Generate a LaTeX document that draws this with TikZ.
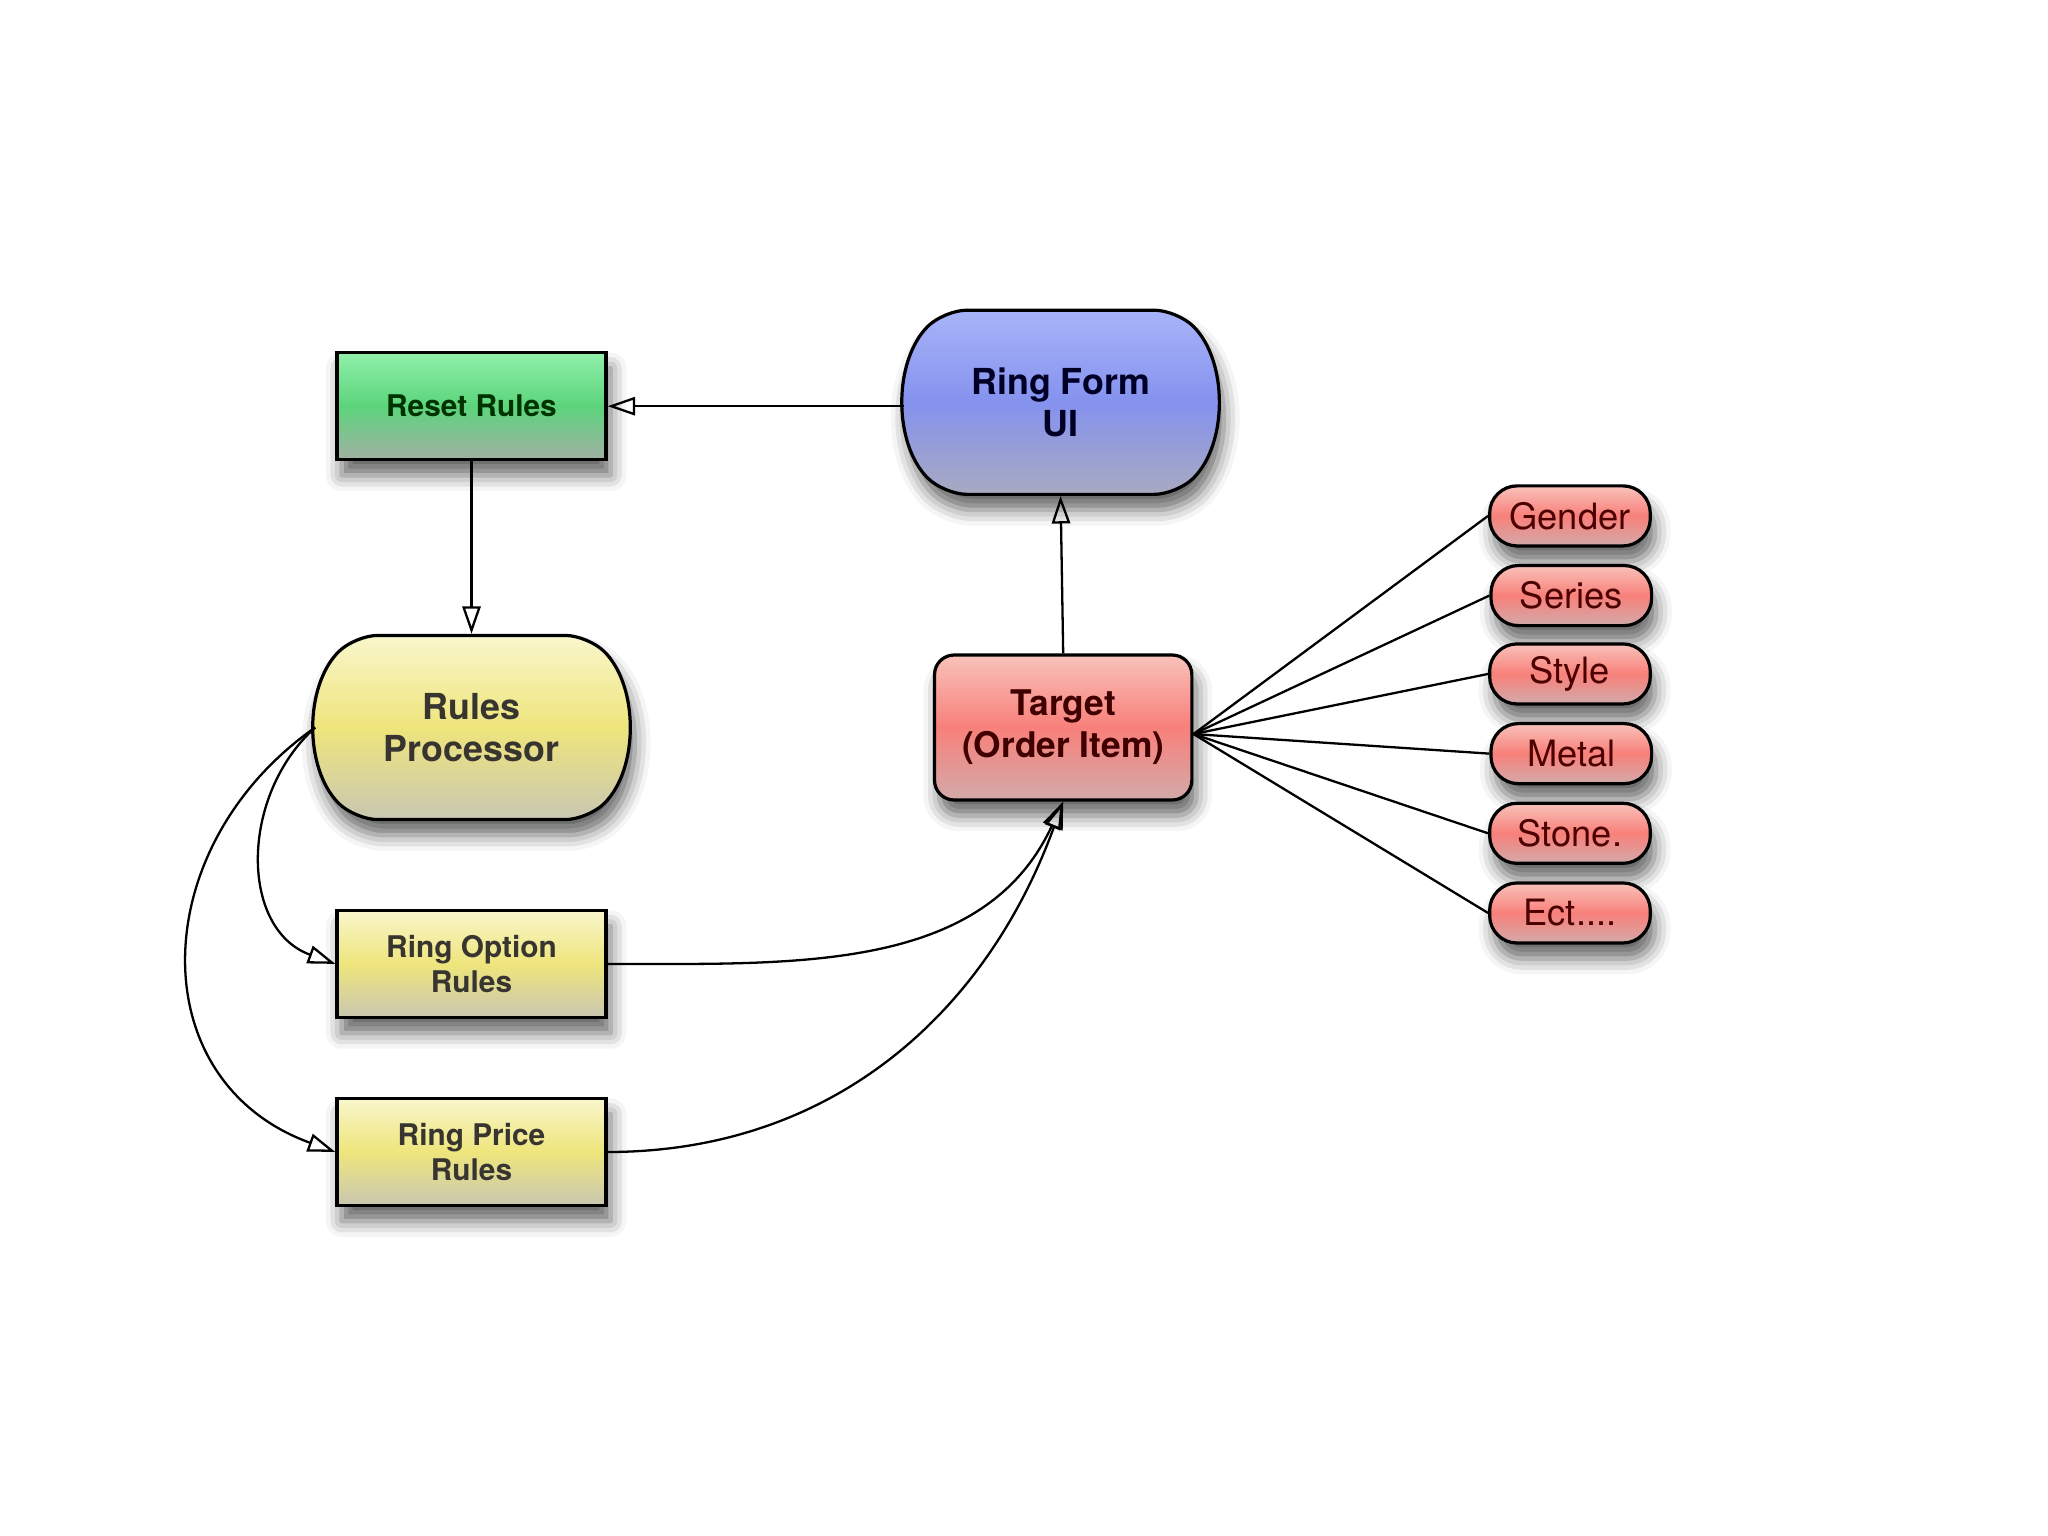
\documentclass[tikz,border=0pt]{standalone}
\usepackage{fontspec}
\setmainfont{TeX Gyre Heros}
\usetikzlibrary{arrows.meta, shapes.misc, shadows.blur}

\definecolor{greentop}{HTML}{90F0AA}
\definecolor{greenmid}{HTML}{5CD47C}
\definecolor{greenbot}{HTML}{A2B0A4}
\definecolor{bluetop}{HTML}{A8B4F8}
\definecolor{bluemid}{HTML}{8592EE}
\definecolor{bluebot}{HTML}{A8AAC0}
\definecolor{yeltop}{HTML}{F9F6CC}
\definecolor{yelmid}{HTML}{EEE57C}
\definecolor{yelbot}{HTML}{C9C7B2}
\definecolor{redtop}{HTML}{F8C2BA}
\definecolor{redmid}{HTML}{F8807A}
\definecolor{redbot}{HTML}{D2AAAA}

\begin{document}
\begin{tikzpicture}

\tikzset{shadowed/.style = {blur shadow={shadow xshift=1pt, shadow yshift=-3.4pt, shadow blur radius=3.4pt, shadow opacity=60}}}
\tikzset{box/.style = {shape=rectangle, draw, line width=0.7pt, minimum width=2.06cm, minimum height=0.82cm, align=center, inner sep=1pt, shadowed, font=\bfseries\fontsize{6.5}{7.7}\selectfont}}
\tikzset{drum/.style = {shape=rounded rectangle, rounded rectangle arc length=90, rounded corners=5pt, draw, line width=0.7pt, minimum width=2.44cm, minimum height=1.41cm, align=center, inner sep=1pt, shadowed, font=\bfseries\fontsize{7.8}{9.1}\selectfont}}
\tikzset{pill/.style = {shape=rectangle, rounded corners=0.21cm, draw, line width=0.7pt, minimum width=1.23cm, minimum height=0.46cm, inner sep=1pt, shadowed, top color=redtop, bottom color=redbot, middle color=redmid, text=red!30!black, font=\fontsize{7.9}{9}\selectfont}}
\tikzset{edge/.style = {-{Triangle[open, length=6pt, width=4pt]}, line width=0.5pt}}

\useasboundingbox (0,0) rectangle (15.68,-11.76);

% vertices
\node[box, top color=greentop, bottom color=greenbot, middle color=greenmid, text=green!20!black] (reset) at (3.61,-3.11) {Reset Rules};
\node[drum, top color=bluetop, bottom color=bluebot, middle color=bluemid, text=blue!15!black] (form) at (8.12,-3.08) {Ring Form\\UI};
\node[drum, top color=yeltop, bottom color=yelbot, middle color=yelmid, text=yellow!10!black] (proc) at (3.61,-5.57) {Rules\\Processor};
\node[shape=rectangle, rounded corners=0.15cm, draw, line width=0.7pt, minimum width=1.97cm, minimum height=1.11cm, align=center, inner sep=1pt, shadowed, top color=redtop, bottom color=redbot, middle color=redmid, text=red!25!black, font=\bfseries\fontsize{7.7}{9.1}\selectfont] (target) at (8.14,-5.57) {Target\\(Order Item)};
\node[box, top color=yeltop, bottom color=yelbot, middle color=yelmid, text=yellow!10!black] (option) at (3.61,-7.38) {Ring Option\\Rules};
\node[box, top color=yeltop, bottom color=yelbot, middle color=yelmid, text=yellow!10!black] (price) at (3.61,-8.82) {Ring Price\\Rules};

\node[pill] (gender) at (12.02,-3.95) {Gender};
\node[pill] (series) at (12.03,-4.56) {Series};
\node[pill] (style) at (12.02,-5.16) {Style};
\node[pill] (metal) at (12.03,-5.77) {Metal};
\node[pill] (stone) at (12.02,-6.38) {Stone.};
\node[pill] (etc) at (12.02,-6.99) {Ect....};

%edges
\draw [edge] (form.west |- reset.east) -- (reset.east);
\draw [edge] (reset.south) -- (proc.north);
\draw [edge] (target.north) -- (form.south);
\draw [edge] (proc.west) to[out=222, in=160, looseness=1.1] (option.west);
\draw [edge] (proc.west) to[out=215, in=160, looseness=1.25] (price.west);
\draw [edge] (option.east) to[out=0, in=245] (target.south);
\draw [edge] (price.east) to[out=0, in=250] (target.south);
\foreach \p in {gender, series, style, metal, stone, etc}
  \draw [line width=0.5pt] ([yshift=-0.05cm]target.east) -- (\p.west);

\end{tikzpicture}
\end{document}
